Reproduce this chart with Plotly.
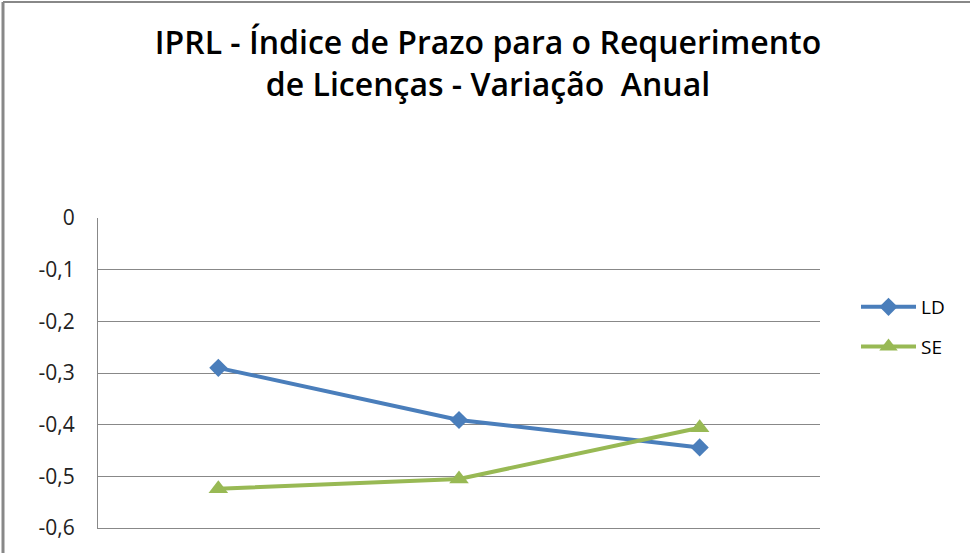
import plotly.graph_objects as go

categories = ["1", "2", "3"]
ld_values = [-0.29, -0.391, -0.444]
se_values = [-0.524, -0.505, -0.406]
y_ticks = [0, -0.1, -0.2, -0.3, -0.4, -0.5, -0.6]
y_tick_labels = ["0", "-0,1", "-0,2", "-0,3", "-0,4", "-0,5", "-0,6"]

W, H = 970, 553
L, R, T, B = 98, 150, 218, 25

fig = go.Figure()
fig.add_trace(go.Scatter(
    x=categories, y=ld_values, name="LD", mode="lines+markers", legendgroup="a",
    line=dict(color="#4A7EBB", width=4),
    marker=dict(symbol="diamond", size=14, color="#4A7EBB"),
))
fig.add_trace(go.Scatter(
    x=categories, y=se_values, name="SE", mode="lines+markers", legendgroup="b",
    line=dict(color="#98B954", width=4),
    marker=dict(symbol="triangle-up", size=17, color="#98B954"),
))

pw, ph = W - L - R, H - T - B
fig.update_layout(
    width=W, height=H,
    margin=dict(l=L, r=R, t=T, b=B),
    paper_bgcolor="white", plot_bgcolor="white",
    font=dict(family="Open Sans, Liberation Sans, sans-serif", color="#000"),
    title=dict(
        text="IPRL - Índice de Prazo para o Requerimento<br>de Licenças - Variação  Anual",
        x=(488) / W, xanchor="center", y=1 - 54 / H, yanchor="middle",
        font=dict(size=32, family="Open Sans, sans-serif", color="#000", weight=600),
    ),
    xaxis=dict(
        type="category", showticklabels=False, showgrid=False,
        showline=True, linecolor="#888", linewidth=1, ticks="",
        range=[-0.5, 2.5], zeroline=False,
    ),
    yaxis=dict(
        range=[-0.6, 0], tickvals=y_ticks, ticktext=y_tick_labels,
        showgrid=True, gridcolor="#888", gridwidth=1,
        showline=True, linecolor="#888", linewidth=1,
        ticks="", ticklen=0, zeroline=False,
        tickfont=dict(size=21, family="Open Sans, sans-serif", color="#222"),
        ticklabelstandoff=18,
    ),
    legend=dict(
        x=(856 - L) / pw, xanchor="left",
        y=(H - B - 288) / ph, yanchor="top",
        font=dict(size=19, family="Open Sans, sans-serif"),
        traceorder="grouped", tracegroupgap=12, itemwidth=55,
        bgcolor="rgba(0,0,0,0)",
    ),
    showlegend=True,
    shapes=[
        dict(type="line", xref="paper", yref="paper",
             x0=(3 - L) / pw, x1=(3 - L) / pw, y0=-1, y1=(H - B - 2) / ph,
             line=dict(color="#888", width=3)),
        dict(type="line", xref="paper", yref="paper",
             x0=(3 - L) / pw, x1=(W + 10 - L) / pw, y0=(H - B - 2) / ph, y1=(H - B - 2) / ph,
             line=dict(color="#888", width=2)),
    ],
)

fig.write_html("out.html", config={"displayModeBar": False},
               post_script="document.body.style.margin='0';")
